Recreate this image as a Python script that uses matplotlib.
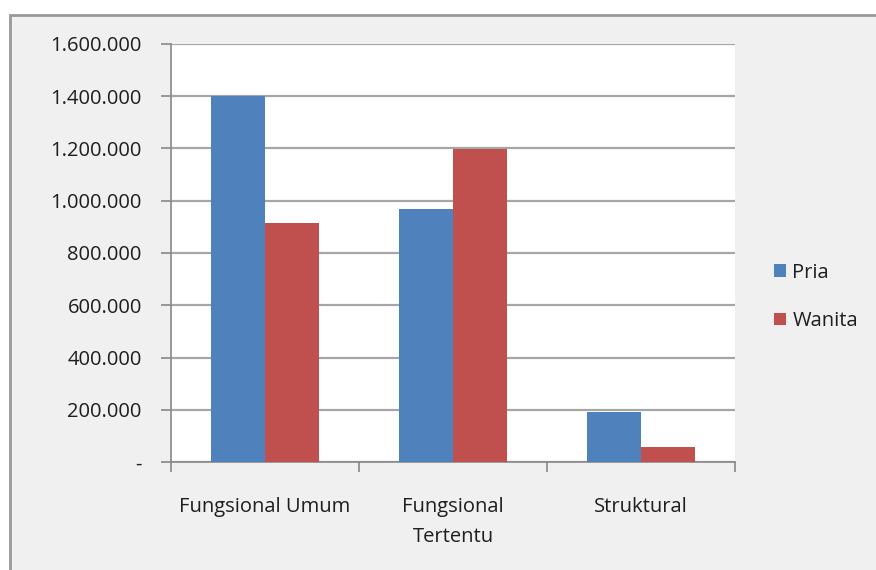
import numpy as np
import matplotlib.pyplot as plt
from matplotlib.patches import Rectangle
from matplotlib.ticker import FuncFormatter

categories = ['Fungsional Umum', 'Fungsional\nTertentu', 'Struktural']
pria = [1400000, 968000, 191000]
wanita = [915000, 1198000, 57000]
series_names = ['Pria', 'Wanita']

plt.rcParams['font.family'] = ['Open Sans', 'DejaVu Sans']

fig = plt.figure(figsize=(8.76, 5.70), dpi=100)
fig.patch.set_facecolor('white')
# chart area (light gray with border)
fig.patches.append(Rectangle((10/876, -0.1), 1.1, 1.1 - 15/570, transform=fig.transFigure,
                             facecolor='#f0f0f0', edgecolor='#999999', linewidth=2, zorder=-5))

ax = fig.add_axes([171/876, 1 - 462/570, (735 - 171)/876, (462 - 44)/570])
ax.set_facecolor('white')

x = np.arange(len(categories))
w = 0.286
ax.bar(x - w/2, pria, w, color='#4F81BD', label=series_names[0], zorder=3)
ax.bar(x + w/2, wanita, w, color='#C0504D', label=series_names[1], zorder=3)

ax.set_xlim(-0.5, 2.5)
ax.set_ylim(0, 1600000)
ax.set_yticks(np.arange(0, 1600001, 200000))

def fmt(v, pos):
    if v == 0:
        return '-'
    return '{:,.0f}'.format(v).replace(',', '.')
ax.yaxis.set_major_formatter(FuncFormatter(fmt))
ax.grid(axis='y', color='#a6a6a6', linewidth=1.6, zorder=1)

ax.set_xticks([-0.5, 0.5, 1.5, 2.5])
ax.set_xticklabels([])
ax.set_xticks(x, minor=True)
ax.set_xticklabels(categories, minor=True, fontsize=14.5, color='#1e1e1e')
ax.tick_params(axis='x', which='minor', length=0, pad=25)
ax.tick_params(axis='x', which='major', length=7, width=1.2, color='#888888', direction='out')
ax.tick_params(axis='y', length=7, width=1.2, color='#888888', labelsize=14.5, labelcolor='#1e1e1e', pad=14)
for tl in ax.get_xticklabels(minor=True):
    tl.set_verticalalignment('top')
    tl.set_linespacing(1.7)

for s in ['top', 'right']:
    ax.spines[s].set_visible(False)
ax.spines['left'].set_color('#888888')
ax.spines['bottom'].set_color('#888888')
ax.spines['left'].set_linewidth(1.2)
ax.spines['bottom'].set_linewidth(1.2)

leg = fig.legend(loc='center left', bbox_to_anchor=(756/876, 1 - 297/570), frameon=False,
                 fontsize=14.5, handlelength=0.6, handleheight=0.6, handletextpad=0.3,
                 labelspacing=1.4)
for t in leg.get_texts():
    t.set_color('#1e1e1e')

plt.savefig('out.png', dpi=100, facecolor=fig.get_facecolor())
